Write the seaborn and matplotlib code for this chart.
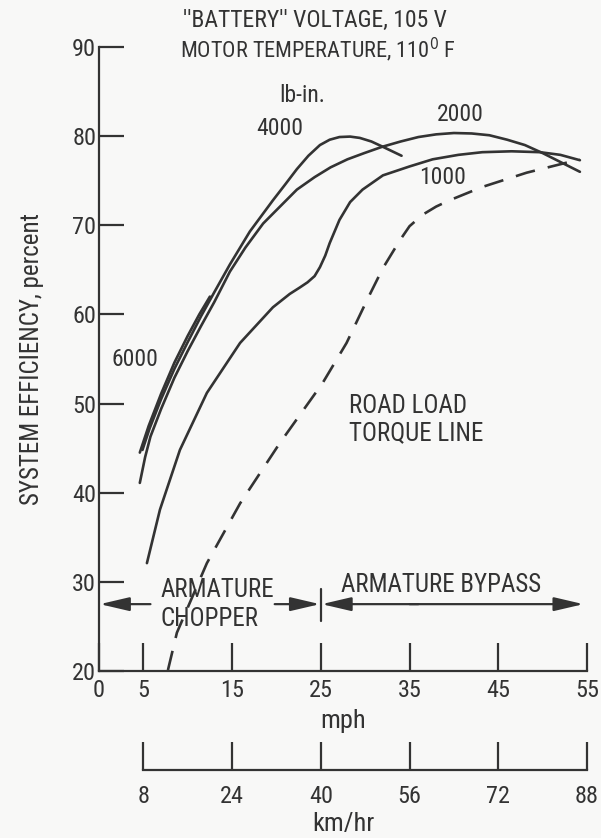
import numpy as np
import pandas as pd
import matplotlib
matplotlib.use("Agg")
import matplotlib.pyplot as plt
import seaborn as sns

# ---------------- data (mph, system efficiency %) ----------------
mph_6000 = [4.6, 5.6, 7.0, 8.5, 10.0, 11.3, 12.5]
eff_6000 = [44.5, 47.5, 51.1, 54.6, 57.6, 60.0, 62.0]

mph_4000 = [4.9, 5.7, 7.0, 8.5, 10.0, 11.5, 13.0, 14.75, 17.0, 19.6, 21.0, 22.3, 23.6, 24.9, 26.0, 27.1, 28.3, 29.4, 30.7, 32.0, 34.1]
eff_4000 = [44.8, 47.2, 50.5, 53.9, 56.9, 59.8, 62.5, 65.6, 69.3, 72.8, 74.6, 76.3, 77.8, 79.0, 79.6, 79.9, 79.95, 79.8, 79.4, 78.8, 77.8]

mph_2000 = [4.6, 5.2, 5.8, 7.0, 8.5, 10.0, 11.5, 13.0, 14.75, 16.5, 18.5, 20.5, 22.3, 24.3, 26.1,
            28.0, 29.9, 31.9, 34.0, 36.0, 38.0, 40.0, 42.0, 44.0, 46.0, 48.0, 50.0, 52.0, 54.2]
eff_2000 = [41.1, 44.0, 46.3, 49.4, 52.9, 55.9, 58.7, 61.4, 64.8, 67.5, 70.2, 72.2, 74.0, 75.4, 76.5,
            77.4, 78.1, 78.8, 79.4, 79.9, 80.2, 80.35, 80.3, 80.1, 79.6, 79.0, 78.1, 77.1, 76.0]

mph_1000 = [5.4, 6.87, 9.12, 12.16, 15.9, 19.6, 21.5, 22.6, 23.5, 24.3, 24.9, 25.5, 26.0, 27.1, 28.3,
            29.7, 32.0, 35.0, 37.6, 40.5, 43.2, 46.5, 49.7, 52.0, 54.2]
eff_1000 = [32.1, 38.1, 44.8, 51.2, 56.8, 60.8, 62.3, 63.0, 63.6, 64.3, 65.3, 66.6, 68.0, 70.6, 72.6,
            74.0, 75.6, 76.6, 77.4, 77.9, 78.2, 78.3, 78.2, 77.9, 77.3]

mph_road = [7.77, 8.78, 12.16, 15.9, 20.4, 25.2, 27.9, 30.3, 32.0, 33.9, 35.0, 36.5, 38.0, 39.5, 43.2, 48.2, 54.2]
eff_road = [20.1, 24.3, 32.1, 38.8, 45.6, 52.3, 56.8, 61.8, 65.2, 68.3, 69.9, 71.2, 72.1, 72.8, 74.3, 75.9, 77.4]

mph_ticks = [0, 5, 15, 25, 35, 45, 55]
kmh_ticks = [5, 15, 25, 35, 45, 55]
kmh_labels = ["8", "24", "40", "56", "72", "88"]
eff_ticks = [20, 30, 40, 50, 60, 70, 80, 90]

# ---------------- style ----------------
BG = "#f8f8f7"
INK = "#333333"
sns.set_theme(style="white")
plt.rcParams["font.family"] = ["Liberation Sans Narrow", "Roboto Condensed", "DejaVu Sans"]
plt.rcParams["font.stretch"] = "condensed"
plt.rcParams["mathtext.fontset"] = "custom"
plt.rcParams["mathtext.rm"] = "DejaVu Sans"
plt.rcParams["text.color"] = INK

fig = plt.figure(figsize=(6.01, 8.38), dpi=100, facecolor=BG)
W, H = 601, 838
x0, x1, y_top, y_bot = 99, 587, 47, 671
ax = fig.add_axes([x0 / W, 1 - y_bot / H, (x1 - x0) / W, (y_bot - y_top) / H])
ax.set_facecolor("none")

LW = 1.9
for xs, ys in [(mph_6000, eff_6000), (mph_4000, eff_4000), (mph_2000, eff_2000), (mph_1000, eff_1000)]:
    sns.lineplot(x=xs, y=ys, ax=ax, color=INK, lw=LW, sort=False, estimator=None)
sns.lineplot(x=mph_road, y=eff_road, ax=ax, color=INK, lw=LW, sort=False, estimator=None)
ax.lines[-1].set_dashes([7.5, 5])

TS = 17.5
ax.set_xlim(0, 55)
ax.set_ylim(20, 90)
ax.set_xticks(mph_ticks)
ax.set_xticklabels([str(t) for t in mph_ticks])
ax.set_yticks(eff_ticks)
ax.set_yticklabels([str(t) for t in eff_ticks])
ax.tick_params(axis="both", direction="in", width=1.6, color=INK,
               labelcolor=INK, labelsize=TS, bottom=True, left=True)
ax.tick_params(axis="x", pad=6, length=20)
ax.tick_params(axis="y", pad=2, length=18)
for s in ["top", "right"]:
    ax.spines[s].set_visible(False)
for s in ["left", "bottom"]:
    ax.spines[s].set_color(INK)
    ax.spines[s].set_linewidth(1.6)
ax.spines["left"].set_bounds(20, 90)
ax.spines["bottom"].set_bounds(0, 55)
ax.grid(False)
ax.set_xlabel("mph", fontsize=19, color=INK, labelpad=5)
ax.set_ylabel("SYSTEM EFFICIENCY, percent", fontsize=18, color=INK, labelpad=20)

# km/hr axis
ax2 = fig.add_axes([x0 / W, 1 - 770 / H, (x1 - x0) / W, 0.03])
ax2.set_facecolor("none")
ax2.set_xlim(0, 55)
ax2.set_xticks(kmh_ticks)
ax2.set_xticklabels(kmh_labels)
ax2.set_yticks([])
for s in ["top", "right", "left"]:
    ax2.spines[s].set_visible(False)
ax2.spines["bottom"].set_bounds(5, 55)
ax2.spines["bottom"].set_color(INK)
ax2.spines["bottom"].set_linewidth(1.6)
ax2.tick_params(axis="x", direction="in", length=20, width=1.6, color=INK,
                labelcolor=INK, labelsize=TS, pad=11, bottom=True)
ax2.grid(False)
ax2.set_xlabel("km/hr", fontsize=19, color=INK, labelpad=3)

# texts
FS = 18
ax.text(24.3, 93.0, "''BATTERY'' VOLTAGE, 105 V", ha="center", va="center", fontsize=17, clip_on=False)
ax.text(24.7, 89.7, "MOTOR TEMPERATURE, 110$^{0}$ F", ha="center", va="center", fontsize=16, clip_on=False)
ax.text(22.9, 84.6, "lb-in.", ha="center", va="center", fontsize=17)
ax.text(20.4, 80.9, "4000", ha="center", va="center", fontsize=17)
ax.text(40.7, 82.4, "2000", ha="center", va="center", fontsize=17)
ax.text(38.7, 75.4, "1000", ha="center", va="center", fontsize=17)
ax.text(4.1, 54.9, "6000", ha="center", va="center", fontsize=17)
ax.text(28.2, 48.2, "ROAD LOAD\nTORQUE LINE", ha="left", va="center", fontsize=FS, linespacing=1.2)
ax.text(6.9, 29.1, "ARMATURE", ha="left", va="center", fontsize=FS)
ax.text(6.9, 25.8, "CHOPPER", ha="left", va="center", fontsize=FS)
ax.text(27.3, 29.7, "ARMATURE BYPASS", ha="left", va="center", fontsize=FS)

# arrows
ARW = dict(arrowstyle="-|>,head_length=1.2,head_width=0.28", color=INK, lw=1.6,
           shrinkA=0, shrinkB=0, mutation_scale=15)
ya = 27.5
ax.annotate("", xy=(0.1, ya), xytext=(5.8, ya), arrowprops=ARW)
ax.annotate("", xy=(24.9, ya), xytext=(19.8, ya), arrowprops=ARW)
ax.annotate("", xy=(25.1, ya), xytext=(36, ya), arrowprops=ARW)
ax.annotate("", xy=(54.6, ya), xytext=(35, ya), arrowprops=ARW)
ax.plot([25, 25], [25.6, 29.2], color=INK, lw=1.6)

fig.savefig("out.png", dpi=100, facecolor=BG)
